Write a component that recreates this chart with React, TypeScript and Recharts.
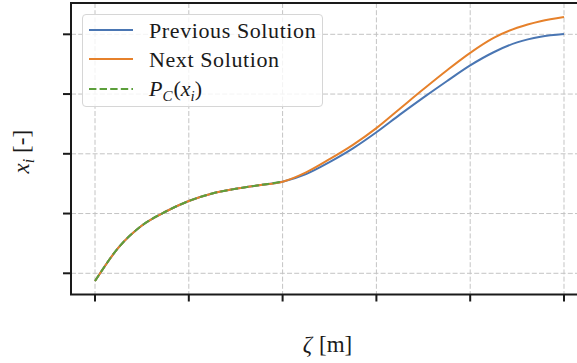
import React from "react";
import {
  LineChart,
  Line,
  XAxis,
  YAxis,
  CartesianGrid,
  ReferenceArea,
  Legend,
} from "recharts";

// Position along the domain, ζ [m]
const ZETA = [
  0, 0.25, 0.5, 0.75, 1, 1.25, 1.5, 1.75, 2, 2.25, 2.5, 2.75, 3, 3.25, 3.5,
  3.75, 4, 4.25, 4.5, 4.75, 5,
];

// State of the previous iterate
const PREVIOUS = [
  -0.13, 0.43, 0.8, 1.03, 1.21, 1.336, 1.414, 1.474, 1.533, 1.66, 1.86,
  2.09, 2.36, 2.655, 2.94, 3.215, 3.48, 3.7, 3.865, 3.96, 4.005,
];

// State of the next iterate
const NEXT = [
  -0.13, 0.43, 0.8, 1.03, 1.21, 1.336, 1.414, 1.474, 1.533, 1.69, 1.91,
  2.15, 2.43, 2.755, 3.08, 3.395, 3.69, 3.94, 4.11, 4.22, 4.29,
];

// Projection onto the constraint set (only defined on the first part)
const PROJECTED = [
  -0.13, 0.43, 0.8, 1.03, 1.21, 1.336, 1.414, 1.474, 1.533,
];

const X_TICKS = [0, 1, 2, 3, 4, 5];
const Y_TICKS = [0, 1, 2, 3, 4];
const X_DOMAIN: [number, number] = [-0.256, 5.256];
const Y_DOMAIN: [number, number] = [-0.355, 4.524];

const BLUE = "#4a76b3";
const ORANGE = "#e6812b";
const GREEN = "#5c9f3b";
const INK = "#1a1a1a";
const FONT = "'Liberation Serif', 'Times New Roman', serif";

const rows = ZETA.map((z, i) => ({
  zeta: z,
  previous: PREVIOUS[i],
  next: NEXT[i],
  projected: PROJECTED[i],
}));

const SERIES = [
  { key: "previous", color: BLUE, dash: undefined as string | undefined },
  { key: "next", color: ORANGE, dash: undefined as string | undefined },
  { key: "projected", color: GREEN, dash: "7.4 3.2" },
];

// Tick marks only, no tick labels
const NoLabel = () => <g />;

function LegendBox() {
  const rowsY = [15, 44, 74];
  return (
    <div
      style={{
        position: "relative",
        width: 241,
        height: 93,
        boxSizing: "border-box",
        border: "1px solid #d6d6d6",
        borderRadius: 4,
        background: "rgba(255,255,255,0.8)",
      }}
    >
      <svg width={241} height={93} style={{ position: "absolute", left: 0, top: 0 }}>
        {SERIES.map((s, i) => (
          <line
            key={s.key}
            x1={6}
            x2={50}
            y1={rowsY[i]}
            y2={rowsY[i]}
            stroke={s.color}
            strokeWidth={2}
            strokeDasharray={s.dash}
          />
        ))}
        <text x={66} y={rowsY[0] + 8} fontFamily={FONT} fontSize={22} letterSpacing={0.6} fill={INK}>
          Previous Solution
        </text>
        <text x={66} y={rowsY[1] + 8} fontFamily={FONT} fontSize={22} letterSpacing={0.6} fill={INK}>
          Next Solution
        </text>
        <text x={66} y={rowsY[2] + 7} fontFamily={FONT} fontSize={22} fill={INK}>
          <tspan fontStyle="italic">P</tspan>
          <tspan fontStyle="italic" fontSize={15} dy={5}>C</tspan>
          <tspan dy={-5} dx={1}>(</tspan>
          <tspan fontStyle="italic">x</tspan>
          <tspan fontStyle="italic" fontSize={15} dy={5}>i</tspan>
          <tspan dy={-5}>)</tspan>
        </text>
      </svg>
    </div>
  );
}

export default function App() {
  return (
    <div
      style={{
        position: "absolute",
        left: 0,
        top: 0,
        width: 577,
        height: 363,
        overflow: "hidden",
        background: "#fff",
      }}
    >
      <LineChart
        width={600}
        height={363}
        data={rows}
        margin={{ top: 3, right: 12, bottom: 67.5, left: 70 }}
      >
        <CartesianGrid
          stroke="#c4c4c4"
          strokeWidth={1}
          strokeDasharray="5 2.2"
          horizontal
          vertical
        />
        <XAxis
          dataKey="zeta"
          type="number"
          domain={X_DOMAIN}
          ticks={X_TICKS}
          interval={0}
          allowDataOverflow
          height={1}
          axisLine={false}
          tick={NoLabel}
          tickSize={7}
          tickLine={{ stroke: INK, strokeWidth: 2 }}
          label={{
            content: (props: any) => {
              const vb = props.viewBox || { x: 0, y: 0, width: 0 };
              return (
                <text
                  x={vb.x + vb.width / 2 - 2}
                  y={vb.y + 57}
                  textAnchor="middle"
                  fontFamily={FONT}
                  fontSize={23}
                  fill={INK}
                >
                  <tspan fontStyle="italic">ζ</tspan>
                  <tspan dx={7}>[m]</tspan>
                </text>
              );
            },
          }}
        />
        <YAxis
          type="number"
          domain={Y_DOMAIN}
          ticks={Y_TICKS}
          interval={0}
          allowDataOverflow
          width={1}
          axisLine={false}
          tick={NoLabel}
          tickSize={8}
          tickLine={{ stroke: INK, strokeWidth: 2 }}
          label={{
            content: (props: any) => {
              const vb = props.viewBox || { x: 0, y: 0, width: 0, height: 0 };
              const cx = vb.x + vb.width - 42;
              const cy = vb.y + vb.height / 2 + 3;
              return (
                <text
                  x={cx}
                  y={cy}
                  transform={`rotate(-90, ${cx}, ${cy})`}
                  textAnchor="middle"
                  fontFamily={FONT}
                  fontSize={23}
                  fill={INK}
                >
                  <tspan fontStyle="italic">x</tspan>
                  <tspan fontStyle="italic" fontSize={16} dy={5}>i</tspan>
                  <tspan dy={-5} dx={6}>[-]</tspan>
                </text>
              );
            },
          }}
        />
        <ReferenceArea
          x1={X_DOMAIN[0]}
          x2={X_DOMAIN[1]}
          y1={Y_DOMAIN[0]}
          y2={Y_DOMAIN[1]}
          fill="none"
          fillOpacity={0}
          stroke={INK}
          strokeWidth={2}
          ifOverflow="visible"
        />
        {SERIES.map((s) => (
          <Line
            key={s.key}
            dataKey={s.key}
            type="monotone"
            stroke={s.color}
            strokeWidth={2}
            strokeDasharray={s.dash}
            dot={false}
            activeDot={false}
            connectNulls={false}
            isAnimationActive={false}
          />
        ))}
        <Legend
          layout="horizontal"
          verticalAlign="middle"
          align="center"
          wrapperStyle={{ left: 82, top: 14, width: 241, height: 93 }}
          content={() => <LegendBox />}
        />
      </LineChart>
    </div>
  );
}
